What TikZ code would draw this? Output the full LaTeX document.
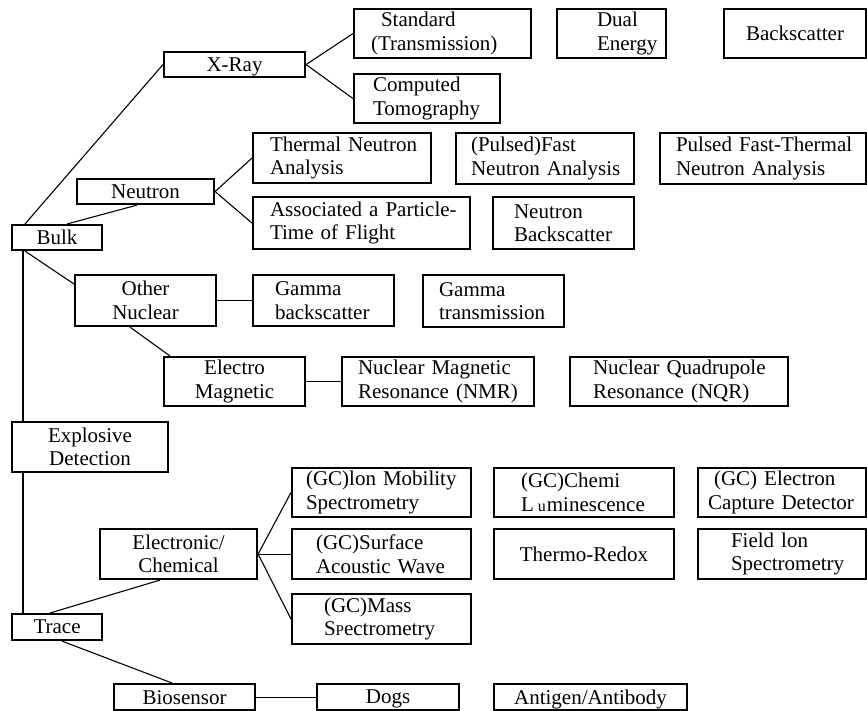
\documentclass[tikz,border=0pt]{standalone}
\usepackage{fontspec}
\setmainfont{Liberation Serif}
\begin{document}
\begin{tikzpicture}[x=1pt, y=-1pt,
  box/.style={draw, line width=2.1pt, anchor=north west, inner ysep=0pt, align=center, font=\fontsize{21}{23.5}\selectfont},
  sbox/.style={box, text depth=0pt},
  lbox/.style 2 args={box, align=left, inner xsep=#2, text width=#1},
  link/.style={line width=1.1pt}]
\useasboundingbox (0,0) rectangle (867,711);

\node[sbox, minimum width=90pt, minimum height=25pt] (bulk) at (11,224) {Bulk};
\node[box, minimum width=156pt, minimum height=50pt] (expl) at (11,421) {Explosive\\Detection};
\node[sbox, minimum width=90pt, minimum height=26pt] (trace) at (11,613) {Trace};

\node[sbox, minimum width=141pt, minimum height=25pt] (xray) at (163,51) {X-Ray};
\node[lbox={143pt}{17pt}, minimum height=49pt] (std) at (353,8) {\hspace*{10pt}Standard\\(Transmission)};
\node[lbox={29pt}{40pt}, minimum height=49pt] (dual) at (556,8) {Dual\\Energy};
\node[sbox, minimum width=142pt, minimum height=49pt] (backx) at (723,8) {Backscatter};
\node[lbox={108pt}{19pt}, minimum height=49pt] (ct) at (353,73) {Computed\\Tomography};

\node[sbox, minimum width=137pt, minimum height=25pt] (neutron) at (76,178) {Neutron};
\node[lbox={144pt}{17pt}, minimum height=50pt] (tna) at (252,132) {\mbox{Thermal Neutron}\\Analysis};
\node[lbox={148pt}{15pt}, minimum height=51pt] (fna) at (455,132) {(Pulsed)Fast\\\mbox{Neutron Analysis}};
\node[lbox={174pt}{16pt}, minimum height=51pt] (pftna) at (659,132) {\mbox{Pulsed Fast-Thermal}\\\mbox{Neutron Analysis}};
\node[lbox={183pt}{17pt}, minimum height=52pt] (apt) at (252,196) {\mbox{Associated a Particle-}\\\mbox{Time of Flight}};
\node[lbox={99pt}{21pt}, minimum height=52pt] (nback) at (492,196) {Neutron\\Backscatter};

\node[box, minimum width=141pt, minimum height=51pt] (other) at (74,274) {Other\\Nuclear};
\node[lbox={97pt}{22pt}, minimum height=51pt] (gback) at (252,274) {Gamma\\backscatter};
\node[lbox={109pt}{16pt}, minimum height=52pt] (gtrans) at (422,274) {Gamma\\transmission};
\node[box, minimum width=141pt, minimum height=49pt] (em) at (163,356) {Electro\\Magnetic};
\node[lbox={160pt}{16pt}, minimum height=49pt] (nmr) at (341,356) {\mbox{Nuclear Magnetic}\\\mbox{Resonance (NMR)}};
\node[lbox={172pt}{23pt}, minimum height=49pt] (nqr) at (569,356) {\mbox{Nuclear Quadrupole}\\\mbox{Resonance (NQR)}};

\node[box, minimum width=157pt, minimum height=50pt] (elec) at (99,528) {Electronic/\\Chemical};
\node[lbox={151pt}{14pt}, minimum height=49pt] (ims) at (291,467) {\mbox{(GC)lon Mobility}\\Spectrometry};
\node[lbox={131pt}{24pt}, minimum height=50pt] (saw) at (291,528) {(GC)Surface\\\mbox{Acoustic Wave}};
\node[lbox={115pt}{32pt}, minimum height=50pt] (ms) at (291,593) {(GC)Mass\\S{\fontsize{15}{15}\selectfont P}ectrometry};
\node[lbox={126pt}{27pt}, minimum height=49pt] (cl) at (493,467) {(GC)Chemi\\\mbox{L\hspace{4pt}{\fontsize{16}{16}\selectfont u}\hspace{1pt}minescence}};
\node[sbox, minimum width=180pt, minimum height=50pt] (redox) at (493,528) {Thermo-Redox};
\node[lbox={148pt}{10pt}, minimum height=49pt] (ecd) at (697,467) {\mbox{\hspace*{6pt}(GC) Electron}\\\mbox{Capture Detector}};
\node[lbox={102pt}{33pt}, minimum height=50pt] (fis) at (697,528) {\mbox{Field lon}\\Spectrometry};

\node[sbox, minimum width=141pt, minimum height=26pt] (bio) at (113,683) {Biosensor};
\node[sbox, minimum width=142pt, minimum height=26pt] (dogs) at (316,683) {Dogs};
\node[sbox, minimum width=193pt, minimum height=26pt] (anti) at (493,683) {Antigen/Antibody};

\draw[link] ([xshift=14pt]bulk.north west) -- (xray.west);
\foreach \nd in {std,ct}
\draw[link] (xray.east) -- (\nd.west);
\draw[link] ([xshift=56pt]bulk.north west) -- ([xshift=61pt]neutron.south west);
\foreach \nd in {tna,apt}
\draw[link] (neutron.east) -- (\nd.west);
\draw[link] ([xshift=14pt]bulk.south west) -- ([yshift=-10pt]other.north west);
\draw[link] (other.east) -- (gback.west);
\draw[link] ([xshift=56pt]other.south west) -- ([xshift=7pt]em.north west);
\draw[link] (em.east) -- (nmr.west);
\draw[link] ([xshift=12pt]bulk.south west) -- ([xshift=12pt]expl.north west);
\draw[link] ([xshift=12pt]expl.south west) -- ([xshift=12pt]trace.north west);
\draw[link] ([xshift=39pt]trace.north west) -- ([xshift=61pt]elec.south west);
\foreach \nd in {ims,saw,ms}
\draw[link] (elec.east) -- (\nd.west);
\draw[link] ([xshift=51pt]trace.south west) -- ([xshift=59pt]bio.north west);
\draw[link] (bio.east) -- (dogs.west);
\end{tikzpicture}
\end{document}
